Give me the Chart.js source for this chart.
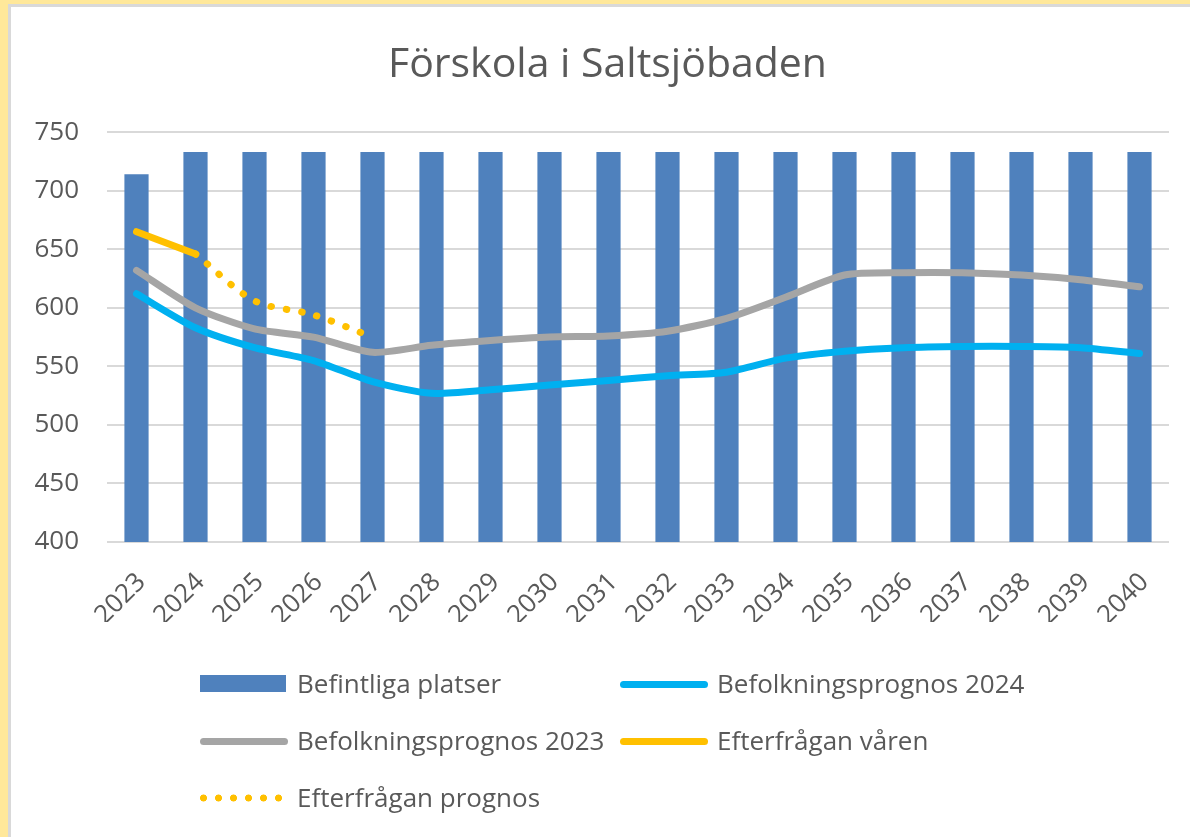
<!DOCTYPE html>
<html>
<head>
<meta charset="utf-8">
<script src="https://cdn.jsdelivr.net/npm/chart.js@4/dist/chart.umd.min.js"></script>
<style>
  html, body { margin: 0; padding: 0; background: #fff; }
  #wrap { position: relative; width: 1190px; height: 837px; overflow: hidden; }
  #frame {
    position: absolute; left: 0; top: 0; width: 1190px; height: 837px;
    box-sizing: border-box;
    border-left: 8px solid #FFE89A; border-top: 4px solid #FFE89A;
  }
  #frame-inner {
    position: absolute; left: 0; top: 0; right: 0; bottom: 0;
    border-left: 3px solid #D9D9D9; border-top: 3px solid #D9D9D9;
  }
  #chart { position: absolute; left: 0; top: 0; }
  .lg { position: absolute; font-family: "Open Sans", sans-serif; font-size: 26px; color: #595959; line-height: 30px; white-space: nowrap; }
  .sw { position: absolute; }
</style>
</head>
<body>
<div id="wrap">
  <div id="frame"><div id="frame-inner"></div></div>
  <canvas id="chart" width="1190" height="837"></canvas>
  <div id="legend"></div>
</div>
<script>
// categories and series
const years = ['2023', '2024', '2025', '2026', '2027', '2028', '2029', '2030', '2031',
               '2032', '2033', '2034', '2035', '2036', '2037', '2038', '2039', '2040'];
const befintligaPlatser = [714, 733, 733, 733, 733, 733, 733, 733, 733, 733, 733, 733, 733, 733, 733, 733, 733, 733];
const prognos2024 = [612, 583, 566, 555, 537, 527, 530, 534, 538, 542, 545, 557, 563, 566, 567, 567, 566, 561];
const prognos2023 = [632, 600, 582, 575, 562, 568, 572, 575, 576, 580, 591, 609, 628, 630, 630, 628, 624, 618];
const efterfraganVaren = [665, 646, null, null, null, null, null, null, null, null, null, null, null, null, null, null, null, null];
const efterfraganPrognos = [null, 646, 606, 594, 575, null, null, null, null, null, null, null, null, null, null, null, null, null];
const yTicks = [400, 450, 500, 550, 600, 650, 700, 750];

const textColor = '#595959';
const gridColor = '#D9D9D9';

// nudge the title a little to the right, the original is not centred on the canvas
const titleShift = {
  id: 'titleShift',
  afterLayout(chart) {
    if (chart.titleBlock) {
      chart.titleBlock.left += 13;
      chart.titleBlock.right += 13;
    }
  }
};

const ctx = document.getElementById('chart').getContext('2d');

const chart = new Chart(ctx, {
  data: {
    labels: years,
    datasets: [
      {
        type: 'line',
        label: 'Efterfrågan prognos',
        data: efterfraganPrognos,
        borderColor: '#FFC000',
        borderWidth: 7,
        borderDash: [0.5, 15],
        borderCapStyle: 'round',
        pointRadius: 0,
        tension: 0.3,
        order: 1
      },
      {
        type: 'line',
        label: 'Efterfrågan våren',
        data: efterfraganVaren,
        borderColor: '#FFC000',
        borderWidth: 7,
        borderCapStyle: 'round',
        pointRadius: 0,
        order: 2
      },
      {
        type: 'line',
        label: 'Befolkningsprognos 2023',
        data: prognos2023,
        borderColor: '#A5A5A5',
        borderWidth: 7,
        borderCapStyle: 'round',
        borderJoinStyle: 'round',
        pointRadius: 0,
        tension: 0.25,
        order: 3
      },
      {
        type: 'line',
        label: 'Befolkningsprognos 2024',
        data: prognos2024,
        borderColor: '#00B0F0',
        borderWidth: 7,
        borderCapStyle: 'round',
        borderJoinStyle: 'round',
        pointRadius: 0,
        tension: 0.25,
        order: 4
      },
      {
        type: 'bar',
        label: 'Befintliga platser',
        data: befintligaPlatser,
        backgroundColor: '#4F81BD',
        barPercentage: 0.41,
        categoryPercentage: 1,
        order: 10
      }
    ]
  },
  options: {
    responsive: false,
    animation: false,
    layout: { padding: { left: 20, right: 21, top: 0, bottom: 215 } },
    plugins: {
      legend: { display: false },
      tooltip: { enabled: false },
      title: {
        display: true,
        text: 'Förskola i Saltsjöbaden',
        color: textColor,
        font: { family: 'Open Sans', size: 41, weight: 'normal', lineHeight: 1.2 },
        padding: { top: 41, bottom: 42 }
      }
    },
    scales: {
      x: {
        grid: { display: false },
        border: { display: false },
        ticks: {
          color: textColor,
          font: { family: 'Open Sans', size: 26 },
          minRotation: 45,
          maxRotation: 45,
          padding: 17,
          labelOffset: 5,
          autoSkip: false
        },
        afterFit: (scale) => { scale.height = 80; }
      },
      y: {
        min: 400,
        max: 750,
        afterBuildTicks: (scale) => { scale.ticks = yTicks.map(v => ({ value: v })); },
        grid: { color: gridColor, lineWidth: 2, drawTicks: false },
        border: { display: false },
        ticks: {
          color: textColor,
          font: { family: 'Open Sans', size: 26 },
          padding: 28
        },
        afterFit: (scale) => { scale.width = 87; }
      }
    }
  },
  plugins: [titleShift]
});

// legend, two columns like the original
const legendItems = [
  { label: 'Befintliga platser', kind: 'bar', color: '#4F81BD', col: 0, row: 0 },
  { label: 'Befolkningsprognos 2024', kind: 'line', color: '#00B0F0', col: 1, row: 0 },
  { label: 'Befolkningsprognos 2023', kind: 'line', color: '#A5A5A5', col: 0, row: 1 },
  { label: 'Efterfrågan våren', kind: 'line', color: '#FFC000', col: 1, row: 1 },
  { label: 'Efterfrågan prognos', kind: 'dots', color: '#FFC000', col: 0, row: 2 }
];
const colX = [200, 620];
const rowY = [684, 741, 798];
const legend = document.getElementById('legend');
legendItems.forEach(it => {
  const x = colX[it.col], y = rowY[it.row];
  const sw = document.createElement('div');
  sw.className = 'sw';
  if (it.kind === 'bar') {
    Object.assign(sw.style, { left: x + 'px', top: (y - 9) + 'px', width: '86px', height: '17px', background: it.color });
  } else if (it.kind === 'line') {
    Object.assign(sw.style, { left: x + 'px', top: (y - 3.5) + 'px', width: '88px', height: '7px', background: it.color, borderRadius: '4px' });
  } else {
    Object.assign(sw.style, {
      left: (x - 4) + 'px', top: (y - 4) + 'px', width: '90px', height: '8px',
      backgroundImage: 'radial-gradient(circle, ' + it.color + ' 3.2px, transparent 3.8px)',
      backgroundSize: '15px 8px'
    });
  }
  legend.appendChild(sw);
  const t = document.createElement('div');
  t.className = 'lg';
  t.textContent = it.label;
  t.style.left = (x + 97) + 'px';
  t.style.top = (y - 16) + 'px';
  legend.appendChild(t);
});
</script>
</body>
</html>
